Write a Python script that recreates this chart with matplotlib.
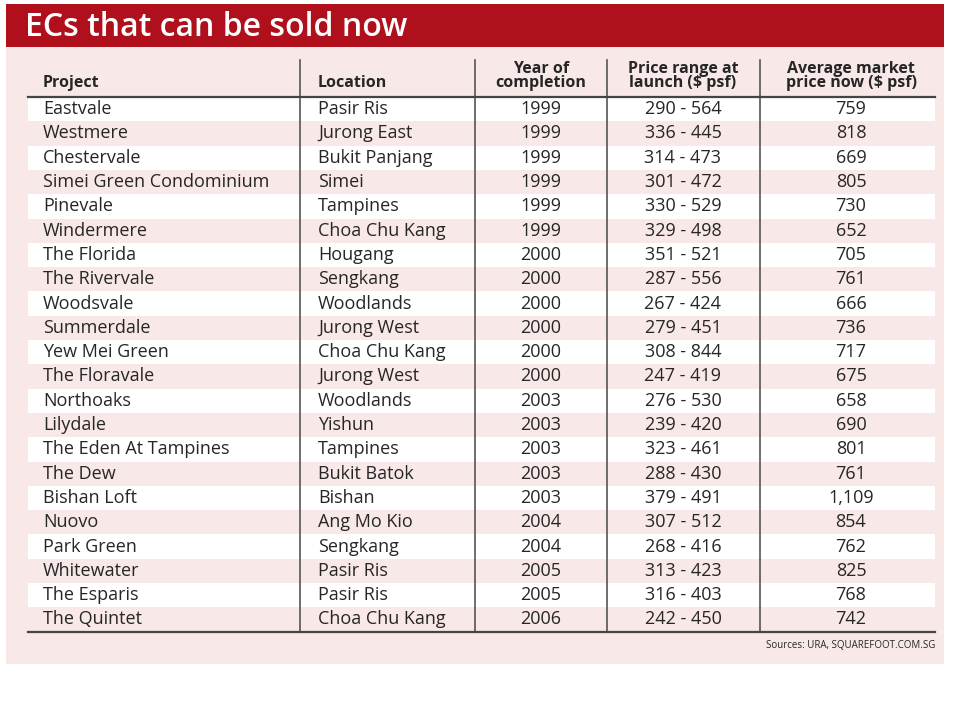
import matplotlib
matplotlib.use("Agg")
import matplotlib.pyplot as plt
from matplotlib.patches import Rectangle

# ── Data ──
projects = ["Eastvale", "Westmere", "Chestervale", "Simei Green Condominium", "Pinevale",
            "Windermere", "The Florida", "The Rivervale", "Woodsvale", "Summerdale",
            "Yew Mei Green", "The Floravale", "Northoaks", "Lilydale", "The Eden At Tampines",
            "The Dew", "Bishan Loft", "Nuovo", "Park Green", "Whitewater", "The Esparis",
            "The Quintet"]
locations = ["Pasir Ris", "Jurong East", "Bukit Panjang", "Simei", "Tampines",
             "Choa Chu Kang", "Hougang", "Sengkang", "Woodlands", "Jurong West",
             "Choa Chu Kang", "Jurong West", "Woodlands", "Yishun", "Tampines",
             "Bukit Batok", "Bishan", "Ang Mo Kio", "Sengkang", "Pasir Ris", "Pasir Ris",
             "Choa Chu Kang"]
years = ["1999"] * 6 + ["2000"] * 6 + ["2003"] * 5 + ["2004"] * 2 + ["2005"] * 2 + ["2006"]
price_ranges = ["290 - 564", "336 - 445", "314 - 473", "301 - 472", "330 - 529",
                "329 - 498", "351 - 521", "287 - 556", "267 - 424", "279 - 451",
                "308 - 844", "247 - 419", "276 - 530", "239 - 420", "323 - 461",
                "288 - 430", "379 - 491", "307 - 512", "268 - 416", "313 - 423",
                "316 - 403", "242 - 450"]
avg_prices = ["759", "818", "669", "805", "730", "652", "705", "761", "666", "736",
              "717", "675", "658", "690", "801", "761", "1,109", "854", "762", "825",
              "768", "742"]

RED = "#b0101c"
PANEL = "#f8e8e8"
TEXT = "#262626"
FONT = "Open Sans"

fig = plt.figure(figsize=(9.6, 7.2), dpi=100)
ax = fig.add_axes([0, 0, 1, 1])
ax.set_xlim(0, 960)
ax.set_ylim(720, 0)
ax.axis("off")

# panel + title bar
ax.add_patch(Rectangle((6, 4), 938, 660, color=PANEL, lw=0))
ax.add_patch(Rectangle((6, 4), 938, 43, color=RED, lw=0))
ax.text(25, 27, "ECs that can be sold now", color="white", fontsize=23,
        fontweight="semibold", va="center", family=FONT)

left, right = 28, 935
top, row_h = 97, 24.3
n = len(projects)
bottom = top + n * row_h

# alternating rows
for i in range(n):
    if i % 2 == 0:
        ax.add_patch(Rectangle((left, top + i * row_h), right - left, row_h,
                               color="white", lw=0))

# column separators and rules
for x in [300, 475, 607, 760]:
    ax.plot([x, x], [60, bottom], color="#555555", lw=1.2)
ax.plot([left, right], [top, top], color="#444444", lw=1.6)
ax.plot([left, right], [bottom, bottom], color="#444444", lw=1.6)

# headers
hk = dict(color=TEXT, fontsize=11.5, fontweight="bold", family=FONT, linespacing=0.85)
ax.text(43, 83, "Project", va="center", **hk)
ax.text(318, 83, "Location", va="center", **hk)
ax.text(541, 76, "Year of\ncompletion", ha="center", va="center", **hk)
ax.text(683, 76, "Price range at\nlaunch ($ psf)", ha="center", va="center", **hk)
ax.text(851, 76, "Average market\nprice now ($ psf)", ha="center", va="center", **hk)

# body
bk = dict(color=TEXT, fontsize=13, family=FONT, va="center")
for i in range(n):
    y = top + (i + 0.5) * row_h
    ax.text(43, y, projects[i], **bk)
    ax.text(318, y, locations[i], **bk)
    ax.text(541, y, years[i], ha="center", **bk)
    ax.text(683, y, price_ranges[i], ha="center", **bk)
    ax.text(851, y, avg_prices[i], ha="center", **bk)

ax.text(935, bottom + 14, "Sources: URA, SQUAREFOOT.COM.SG", color=TEXT,
        fontsize=7, ha="right", va="center", family=FONT)

fig.savefig("out.png", dpi=100, facecolor="white")
